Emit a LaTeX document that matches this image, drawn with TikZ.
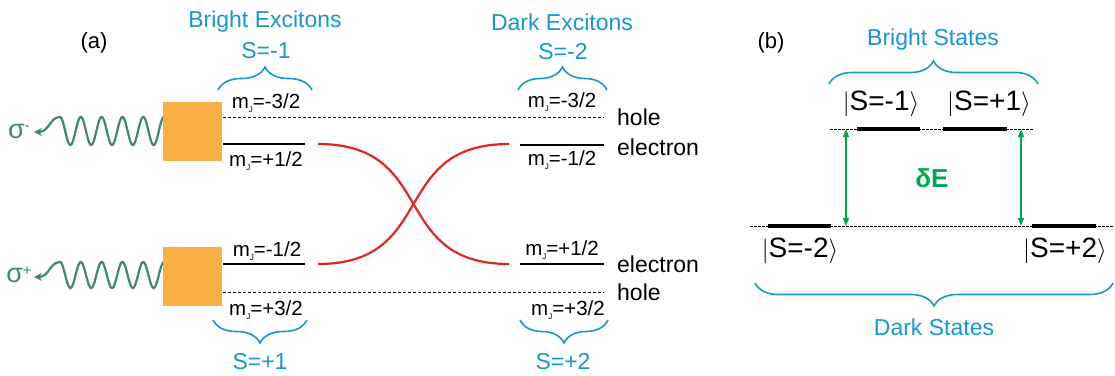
\documentclass[tikz,border=0pt]{standalone}
\usepackage{fontspec}
\setmainfont{Liberation Sans}
\usetikzlibrary{decorations.pathreplacing,arrows.meta}
\definecolor{cblue}{RGB}{22,150,210}
\definecolor{corange}{RGB}{250,174,70}
\definecolor{cteal}{RGB}{62,135,115}
\definecolor{cred}{RGB}{222,40,30}
\definecolor{cgreen}{RGB}{0,166,80}
\newcommand{\fsz}[1]{\fontsize{#1}{#1}\selectfont}
\newcommand{\mJ}{m\raisebox{-0.3ex}{\fsz{8}J}}
\begin{document}
\begin{tikzpicture}[x=1pt,y=-1pt,
  lvl/.style={black, line width=1.4pt},
  hol/.style={black, line width=0.9pt, dash pattern=on 3pt off 2pt},
  thin dash/.style={black, line width=0.9pt, dash pattern=on 2.5pt off 1.5pt},
  thick lvl/.style={black, line width=3.6pt},
  brc/.style={cblue, line width=1.6pt, decorate, decoration={brace, amplitude=23pt}},
  brcd/.style={cblue, line width=1.6pt, decorate, decoration={brace, amplitude=23pt, mirror}},
  box/.style={fill=corange, minimum width=59pt, minimum height=59pt, inner sep=0pt},
  wave/.style={cteal, line width=2.2pt},
  cross/.style={cred, line width=2.2pt},
  mlab/.style={inner sep=0pt, font=\fsz{20.5}},
  side/.style={inner sep=0pt, anchor=west, font=\fsz{23}},
  blab/.style={inner sep=0pt, text=cblue, font=\fsz{23}},
  ket/.style={inner sep=0pt, font=\fsz{28}},
  garr/.style={cgreen, line width=1.2pt, {Triangle[length=8pt,width=6pt]}-{Triangle[length=8pt,width=6pt]}}
]
\useasboundingbox (0,0) rectangle (1115,375);

% ---------- panel (a) ----------
\node[inner sep=0pt, font=\fsz{22}] (la) at (94,43) {(a)};
\node[blab] (bex) at (265,22) {Bright Excitons};
\node[blab] (sm1) at (266,51) {S=-1};
\node[blab] (dex) at (562,22) {Dark Excitons};
\node[blab] (sm2) at (563,52) {S=-2};
\node[blab] (sp1) at (260,362) {S=+1};
\node[blab] (sp2) at (563,362) {S=+2};

% braces
\coordinate (b1a) at (218,90); \coordinate (b1b) at (312,90);
\coordinate (b2a) at (518,90); \coordinate (b2b) at (607,90);
\coordinate (b3a) at (213,320); \coordinate (b3b) at (307,320);
\coordinate (b4a) at (520,320); \coordinate (b4b) at (608,320);
\draw[brc] (b1a) -- (b1b);
\draw[brc] (b2a) -- (b2b);
\draw[brcd] (b3a) -- (b3b);
\draw[brcd] (b4a) -- (b4b);

% waves (behind boxes)
\draw[wave] plot[domain=60:170, samples=220, smooth] (\x, {131-14*cos(17.3*(\x-60))});
\draw[wave] plot[domain=60:170, samples=220, smooth] (\x, {275-13*cos(17.3*(\x-60))});

% boxes
\node[box] (boxT) at (192.5,131) {};
\node[box] (boxB) at (192.5,276.5) {};

% wave arrow ends
\coordinate (w1s) at (60,117); \coordinate (w1e) at (34,132);
\coordinate (w2s) at (60,262); \coordinate (w2e) at (34,277);
\draw[wave, -{Stealth[length=8pt,width=8pt]}] (w1s) .. controls (50,117) and (49,132) .. (w1e);
\draw[wave, -{Stealth[length=8pt,width=8pt]}] (w2s) .. controls (50,262) and (49,277) .. (w2e);
\node[inner sep=0pt, text=cteal, font=\fsz{27}] (sigm) at (19,131) {σ\raisebox{0.5ex}{\fsz{15}-}};
\node[inner sep=0pt, text=cteal, font=\fsz{27}] (sigp) at (19,275) {σ\raisebox{0.5ex}{\fsz{15}+}};

% level coordinates
\coordinate (hT1) at (223,117); \coordinate (hT2) at (604,117);
\coordinate (eTL1) at (223,144); \coordinate (eTL2) at (305,144);
\coordinate (eTR1) at (520,145); \coordinate (eTR2) at (604,145);
\coordinate (eBL1) at (223,264); \coordinate (eBL2) at (305,264);
\coordinate (eBR1) at (520,264); \coordinate (eBR2) at (604,264);
\coordinate (hB1) at (223,292); \coordinate (hB2) at (604,292);
\draw[hol] (hT1) -- (hT2);
\draw[hol] (hB1) -- (hB2);
\draw[lvl] (eTL1) -- (eTL2);
\draw[lvl] (eTR1) -- (eTR2);
\draw[lvl] (eBL1) -- (eBL2);
\draw[lvl] (eBR1) -- (eBR2);

% red crossing curves
\coordinate (rTL) at (318,144); \coordinate (rTR) at (509,144);
\coordinate (rBL) at (318,264); \coordinate (rBR) at (509,264);
\draw[cross] (rTL) .. controls (438,144) and (389,264) .. (rBR);
\draw[cross] (rBL) .. controls (438,264) and (389,144) .. (rTR);

% m_J labels
\node[mlab] (m1) at (266,103) {\mJ=-3/2};
\node[mlab] (m2) at (266,161) {\mJ=+1/2};
\node[mlab] (m3) at (562,102) {\mJ=-3/2};
\node[mlab] (m4) at (562,160) {\mJ=-1/2};
\node[mlab] (m5) at (267,251) {\mJ=-1/2};
\node[mlab] (m6) at (562,250) {\mJ=+1/2};
\node[mlab] (m7) at (266,310) {\mJ=+3/2};
\node[mlab] (m8) at (568,310) {\mJ=+3/2};

\node[side] (t1) at (617,117) {hole};
\node[side] (t2) at (617,147) {electron};
\node[side] (t3) at (617,264) {electron};
\node[side] (t4) at (617,292) {hole};

% ---------- panel (b) ----------
\node[inner sep=0pt, font=\fsz{22}] (lb) at (771,43) {(b)};
\node[blab] (bst) at (933,40) {Bright States};
\node[blab] (dst) at (934,327) {Dark States};
\coordinate (b5a) at (829,84); \coordinate (b5b) at (1038,84);
\coordinate (b6a) at (755,283); \coordinate (b6b) at (1113,283);
\draw[brc] (b5a) -- (b5b);
\draw[brcd] (b6a) -- (b6b);

\coordinate (up1) at (830,129); \coordinate (up2) at (1033,129);
\coordinate (lo1) at (750,226); \coordinate (lo2) at (1113,226);
\draw[thin dash] (up1) -- (up2);
\draw[thin dash] (lo1) -- (lo2);
\coordinate (k1a) at (857,129); \coordinate (k1b) at (920,129);
\coordinate (k2a) at (943,129); \coordinate (k2b) at (1007,129);
\coordinate (k3a) at (768,226); \coordinate (k3b) at (831,226);
\coordinate (k4a) at (1032,226); \coordinate (k4b) at (1096,226);
\draw[thick lvl] (k1a) -- (k1b);
\draw[thick lvl] (k2a) -- (k2b);
\draw[thick lvl] (k3a) -- (k3b);
\draw[thick lvl] (k4a) -- (k4b);

\node[ket] (km1) at (881,104) {$\vert$S=-1$\rangle$};
\node[ket] (kp1) at (989,104) {$\vert$S=+1$\rangle$};
\node[ket] (km2) at (800,251) {$\vert$S=-2$\rangle$};
\node[ket] (kp2) at (1065,251) {$\vert$S=+2$\rangle$};

\coordinate (a1t) at (846,129); \coordinate (a1b) at (846,226);
\coordinate (a2t) at (1021,129); \coordinate (a2b) at (1021,226);
\draw[garr] (a1t) -- (a1b);
\draw[garr] (a2t) -- (a2b);
\node[inner sep=0pt, text=cgreen, font=\fsz{26}\bfseries] (dE) at (932,178) {δE};
\end{tikzpicture}
\end{document}
